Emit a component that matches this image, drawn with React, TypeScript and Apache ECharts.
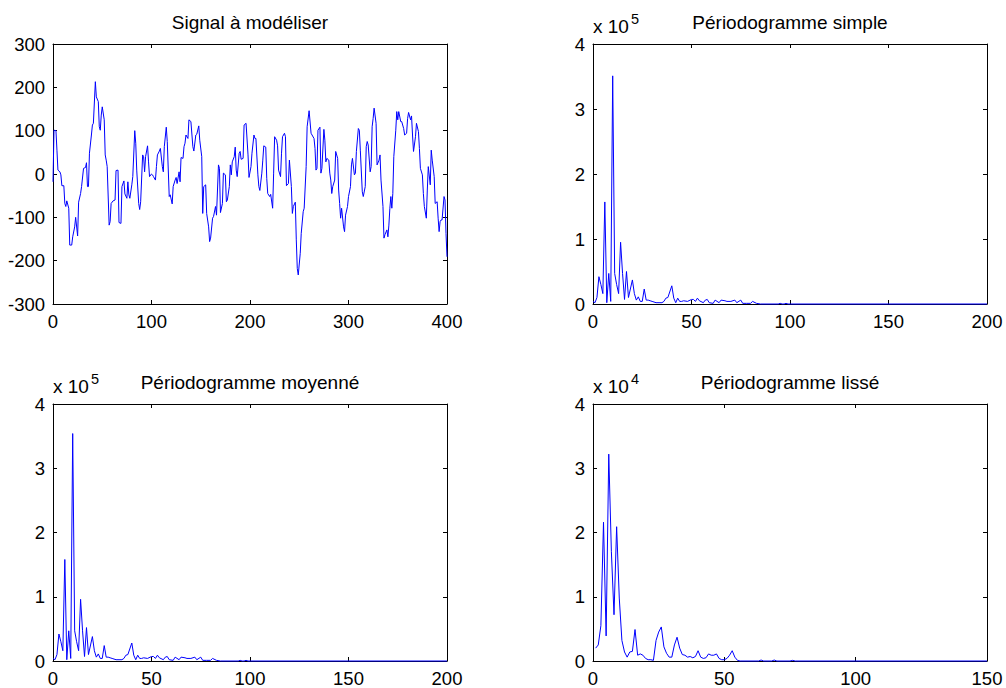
import React, { useEffect, useRef } from "react";
import * as echarts from "echarts";

// Signal à modéliser : [échantillon, amplitude]
const SIGNAL: [number, number][] = [
  [0,-18],[1,101],[3,100],[4,55],[5,9],[7,5],[8,-2],[9,-27],[11,-27],[12,-68],[13,-75],[14,-62],[16,-79],[17,-164],[19,-164],[20,-145],[22,-122],[23,-100],[25,-143],[26,-65],[28,-45],[29,-29],[31,13],[33,15],[34,26],[35,-29],[36,-29],[37,48],[39,90],[40,113],[41,117],[43,213],[44,178],[46,167],[47,109],[48,101],[49,136],[50,155],[52,125],[53,44],[54,32],[55,17],[57,-118],[58,-110],[59,-68],[61,-62],[63,-60],[64,8],[66,9],[67,-112],[69,-114],[70,-29],[72,-16],[73,-46],[75,-56],[76,-18],[77,-48],[78,-56],[80,-25],[81,-6],[83,100],[84,71],[85,9],[87,-68],[88,-82],[89,-64],[91,44],[92,40],[93,5],[94,40],[96,65],[97,28],[98,-6],[100,0],[101,-2],[102,-6],[104,-14],[105,17],[106,44],[108,53],[109,59],[111,17],[112,5],[113,63],[115,108],[116,75],[118,-52],[119,-48],[121,-69],[122,-29],[124,-14],[125,-8],[126,-22],[128,5],[129,-18],[130,38],[132,36],[133,63],
  [134,71],[135,90],[137,82],[138,125],[140,121],[142,63],[143,53],[145,90],[146,92],[148,111],[149,78],[151,40],[152,-91],[153,-29],[155,-25],[156,-91],[158,-122],[159,-156],[160,-148],[162,-102],[163,-98],[165,-75],[166,-95],[168,21],[169,13],[170,-89],[172,-68],[173,2],[175,-2],[176,-64],[177,-60],[179,-29],[180,21],[181,-2],[182,28],[184,40],[185,62],[186,9],[187,-6],[189,48],[190,52],[191,34],[193,36],[194,113],[196,117],[198,44],[199,-8],[201,17],[202,48],[204,90],[205,82],[206,82],[208,-2],[209,-29],[210,-38],[212,2],[213,32],[214,65],[216,62],[217,-10],[218,-45],[220,-52],[221,-47],[223,-79],[224,2],[225,86],[227,78],[228,65],[229,9],[231,-6],[232,48],[233,86],[235,94],[236,86],[237,-27],[239,-22],[240,32],[242,-29],[243,-91],[244,-75],[246,-65],[247,-152],[248,-218],[249,-233],[251,-183],[252,-137],[254,-87],[255,-79],[257,17],[258,109],[260,146],[262,94],[263,90],[265,82],[266,59],
  [267,9],[268,13],[269,101],[271,108],[272,2],[273,13],[275,103],[276,78],[277,28],[278,36],[280,32],[281,2],[282,-14],[283,-45],[284,-29],[286,-14],[287,52],[289,36],[290,-37],[291,-68],[292,-102],[293,-79],[295,-122],[296,-133],[297,-95],[299,-75],[300,-52],[302,-29],[303,21],[304,36],[306,-2],[307,2],[308,52],[310,105],[311,101],[312,55],[314,-41],[315,-52],[317,-29],[318,63],[319,75],[320,67],[322,5],[323,17],[324,109],[325,128],[326,152],[328,117],[329,21],[331,32],[332,44],[333,-14],[335,-75],[336,-148],[337,-140],[339,-129],[340,-145],[341,-118],[342,-79],[343,-52],[344,-79],[345,-45],[346,40],[348,101],[349,144],[350,125],[351,144],[353,121],[354,121],[356,105],[357,90],[359,94],[360,128],[361,142],[363,125],[364,134],[365,90],[366,52],[368,86],[369,117],[371,98],[372,59],[373,13],[375,-2],[376,-45],[377,-75],[379,-102],[380,-37],[381,17],[383,-25],[384,55],[385,32],[387,-6],[388,-68],[390,-64],[391,-102],[392,-133],[393,-110],[394,-106],[395,-106],[397,-52],[398,-60],[399,-137],[400,-191]
];

// Périodogramme simple (x 10^5)
const PERIO_SIMPLE: [number, number][] = [
  [0,0.04],[1,0.02],[2,0.1],[3,0.42],[4,0.3],[5,0.16],[6,1.57],[7,0.02],[8,0.47],[9,0.04],[10,3.51],[11,0.47],[12,0.3],[13,0.16],[14,0.95],[15,0.47],[16,0.07],[17,0.5],[18,0.1],[20,0.37],[21,0.16],[22,0.06],[23,0.11],[24,0.04],[25,0.04],[26,0.23],[27,0.06],[28,0.06],[29,0.05],[30,0.04],[32,0.02],[34,0.02],[35,0.02],[36,0.04],[37,0.09],[38,0.1],[40,0.28],[41,0.09],[42,0.02],[43,0.09],[44,0.04],[45,0.04],[46,0.05],[48,0.04],[50,0.07],[51,0.07],[52,0.04],[53,0.09],[54,0.05],[56,0.02],[57,0.06],[58,0.07],[59,0.02],[61,0.01],[62,0.06],[64,0.02],[65,0.06],[67,0.05],[68,0.04],[70,0.04],[72,0.06],[73,0.02],[75,0.06],[76,0.01],[78,0.01],[80,0.01],[81,0.04],[83,0.01],[85,0],[94,0],[95,0.01],[96,0],[97,0],[98,0.01],[99,0],[200,0]
];

// Périodogramme moyenné (x 10^5)
const PERIO_MOYENNE: [number, number][] = [
  [0,0.04],[1,0.02],[2,0.1],[3,0.42],[4,0.3],[5,0.16],[6,1.58],[7,0.02],[8,0.47],[9,0.04],[10,3.54],[11,0.47],[12,0.3],[13,0.16],[14,0.96],[15,0.47],[16,0.07],[17,0.52],[18,0.1],[20,0.38],[21,0.16],[22,0.06],[23,0.11],[24,0.04],[25,0.04],[26,0.24],[27,0.06],[28,0.06],[29,0.05],[30,0.04],[32,0.02],[34,0.02],[35,0.02],[36,0.04],[37,0.09],[38,0.1],[40,0.28],[41,0.09],[42,0.02],[43,0.09],[44,0.04],[45,0.04],[46,0.05],[48,0.04],[50,0.07],[51,0.07],[52,0.04],[53,0.09],[54,0.05],[56,0.02],[57,0.06],[58,0.07],[59,0.02],[61,0.01],[62,0.06],[64,0.02],[65,0.06],[67,0.05],[68,0.04],[70,0.04],[72,0.06],[73,0.02],[75,0.06],[76,0.01],[78,0.01],[80,0.01],[81,0.04],[83,0.01],[85,0],[94,0],[95,0.01],[96,0],[97,0],[98,0.01],[99,0],[200,0]
];

// Périodogramme lissé (x 10^4)
const PERIO_LISSE: [number, number][] = [
  [1,0.2],[2,0.25],[3,0.55],[4,2.16],[5,0.39],[6,3.22],[7,1.7],[8,0.72],[9,2.09],[10,0.98],[11,0.32],[12,0.14],[13,0.06],[14,0.14],[15,0.15],[16,0.49],[17,0.09],[18,0.11],[19,0.09],[20,0.04],[21,0.02],[22,0.02],[23,0.01],[24,0.32],[25,0.45],[26,0.53],[27,0.22],[28,0.12],[29,0.06],[30,0.06],[31,0.25],[32,0.37],[33,0.2],[34,0.1],[35,0.09],[36,0.06],[37,0.07],[38,0.05],[39,0.07],[40,0.16],[41,0.06],[42,0.04],[43,0.05],[44,0.11],[45,0.09],[46,0.09],[47,0.11],[48,0.04],[49,0.02],[50,0.02],[51,0.04],[52,0.09],[53,0.16],[54,0.06],[55,0.01],[56,0],[63,0],[64,0.015],[65,0],[68,0],[69,0.015],[70,0],[75,0],[76,0.01],[77,0],[150,0]
];

const TITLES = ["Signal à modéliser", "Périodogramme simple", "Périodogramme moyenné", "Périodogramme lissé"];
const EXPONENTS = [null, "5", "5", "4"];
const X_MAX = [400, 200, 200, 150];
const X_STEP = [100, 50, 50, 50];
const Y_MIN = [-300, 0, 0, 0];
const Y_MAX = [300, 4, 4, 4];
const Y_STEP = [100, 1, 1, 1];
const SERIES = [SIGNAL, PERIO_SIMPLE, PERIO_MOYENNE, PERIO_LISSE];

const FONT = '"Liberation Sans", Arial, Helvetica, sans-serif';
const GRIDS = [
  { left: 53, top: 44, width: 394, height: 260 },
  { left: 593, top: 44, width: 394, height: 260 },
  { left: 53, top: 404, width: 394, height: 260 },
  { left: 593, top: 404, width: 394, height: 260 },
];

function textEl(x: number, y: number, text: string, size: number, align: string) {
  return {
    type: "text",
    x,
    y,
    silent: true,
    style: {
      text,
      fill: "#000",
      fontSize: size,
      fontFamily: FONT,
      align,
      textAlign: align,
      verticalAlign: "middle",
      textVerticalAlign: "middle",
    },
  };
}

export default function App() {
  const ref = useRef<HTMLDivElement>(null);
  useEffect(() => {
    if (!ref.current) return;
    const chart = echarts.init(ref.current, undefined, { renderer: "svg" });
    const xAxis: any[] = [];
    const yAxis: any[] = [];
    const series: any[] = [];
    const graphic: any[] = [];
    const lineCommon = { show: true, onZero: false, lineStyle: { color: "#000", width: 1 } };
    const tickCommon = { show: true, inside: true, length: 4, lineStyle: { color: "#000", width: 1 } };
    const label = { color: "#000", fontSize: 18.5, fontFamily: FONT, margin: 8 };
    for (let i = 0; i < 4; i++) {
      const xc = { type: "value", gridIndex: i, min: 0, max: X_MAX[i], interval: X_STEP[i], splitLine: { show: false }, axisLine: lineCommon, axisTick: tickCommon };
      const yc = { type: "value", gridIndex: i, min: Y_MIN[i], max: Y_MAX[i], interval: Y_STEP[i], splitLine: { show: false }, axisLine: lineCommon, axisTick: tickCommon };
      xAxis.push({ ...xc, position: "bottom", axisLabel: label });
      xAxis.push({ ...xc, position: "top", axisLabel: { show: false } });
      yAxis.push({ ...yc, position: "left", axisLabel: label });
      yAxis.push({ ...yc, position: "right", axisLabel: { show: false } });
      series.push({
        type: "line",
        xAxisIndex: 2 * i,
        yAxisIndex: 2 * i,
        data: SERIES[i],
        symbol: "none",
        showSymbol: false,
        clip: false,
        lineStyle: { color: "#0000ff", width: 1 },
        itemStyle: { color: "#0000ff" },
      });
      const g = GRIDS[i];
      graphic.push(textEl(g.left + g.width / 2, g.top - 22, TITLES[i], 19, "center"));
      if (EXPONENTS[i]) {
        graphic.push(textEl(g.left, g.top - 17.5, "x 10", 19, "left"));
        graphic.push(textEl(g.left + 38, g.top - 25, EXPONENTS[i] as string, 14.5, "left"));
      }
    }
    chart.setOption({
      animation: false,
      backgroundColor: "#fff",
      grid: GRIDS,
      xAxis,
      yAxis,
      series,
      graphic,
    });
    return () => chart.dispose();
  }, []);
  return (
    <div
      ref={ref}
      style={{ position: "absolute", left: 0, top: 0, width: 1006, height: 688, background: "#fff" }}
    />
  );
}
